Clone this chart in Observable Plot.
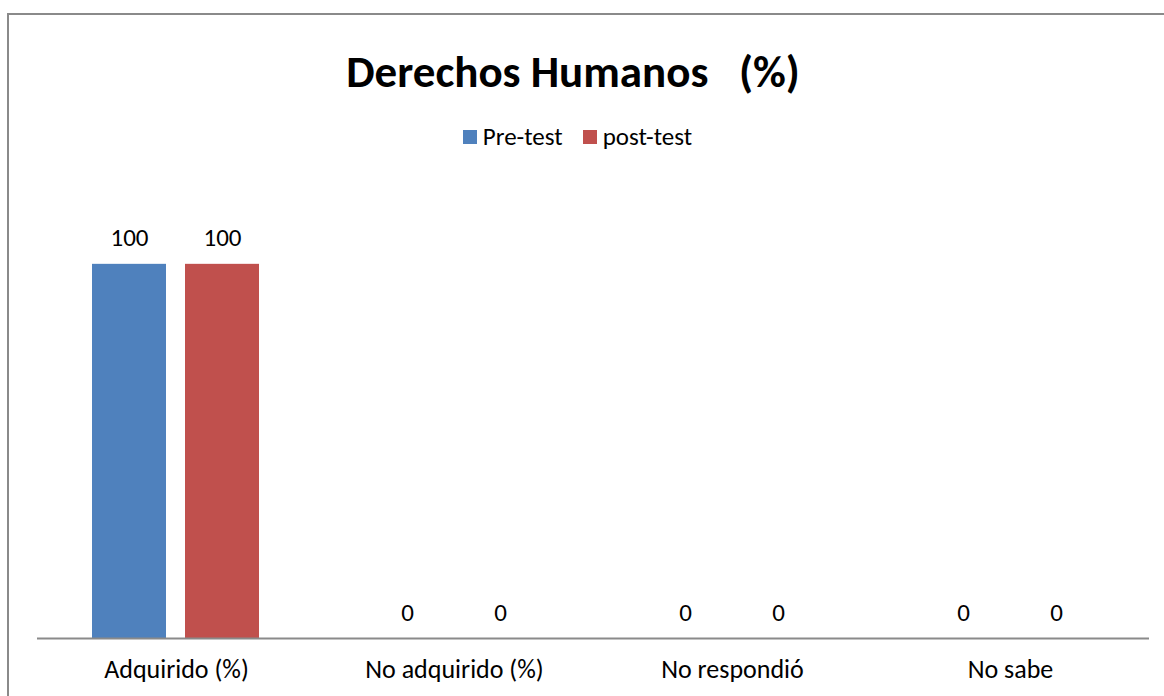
<!DOCTYPE html>
<html>
<head>
<meta charset="utf-8">
<script src="https://cdn.jsdelivr.net/npm/d3@7"></script>
<script src="https://cdn.jsdelivr.net/npm/@observablehq/plot@0.6"></script>
<style>
  html, body { margin: 0; padding: 0; background: #fff; overflow: hidden; }
  body { width: 1164px; height: 696px; position: relative; font-family: Carlito, Lato, "Noto Sans", sans-serif; color: #000; }
  #frame { position: absolute; left: 7px; top: 13px; width: 1200px; height: 800px; border: 2px solid #8a8a8a; box-sizing: border-box; }
  #title { position: absolute; left: 0; top: 41px; width: 1146px; text-align: center; font-weight: bold; font-size: 45px; line-height: 62px; }
  #legend { position: absolute; left: 0; top: 121px; width: 1155px; text-align: center; font-size: 25px; line-height: 30px; }
  #legend span.item { display: inline-flex; align-items: center; margin: 0 10px; }
  #legend span.sw { display: inline-block; width: 14px; height: 14px; margin-right: 6px; }
  #chart { position: absolute; left: 0; top: 160px; }
</style>
</head>
<body>
<div id="frame"></div>
<div id="title">Derechos Humanos&nbsp;&nbsp; (%)</div>
<div id="legend"></div>
<div id="chart"></div>
<script>
const categories = ["Adquirido (%)", "No adquirido (%)", "No respondió", "No sabe"];
const seriesNames = ["Pre-test", "post-test"];
const preTest = [100, 0, 0, 0];
const postTest = [100, 0, 0, 0];
const colors = ["#4F81BD", "#C0504D"];

const data = [];
categories.forEach((c, i) => {
  data.push({category: c, series: seriesNames[0], value: preTest[i]});
  data.push({category: c, series: seriesNames[1], value: postTest[i]});
});

const legend = document.getElementById("legend");
seriesNames.forEach((s, i) => {
  const item = document.createElement("span");
  item.className = "item";
  const sw = document.createElement("span");
  sw.className = "sw";
  sw.style.background = colors[i];
  item.appendChild(sw);
  item.appendChild(document.createTextNode(s));
  legend.appendChild(item);
});

const chart = Plot.plot({
  width: 1164,
  height: 536,
  marginTop: 29,
  marginBottom: 58,
  marginLeft: 37,
  marginRight: 15,
  style: {fontFamily: "Carlito, Lato, 'Noto Sans', sans-serif", fontSize: "26px", color: "#000", background: "transparent"},
  fx: {domain: categories, padding: 0, axis: "bottom", tickSize: 0, tickPadding: 21, label: null},
  x: {domain: seriesNames, paddingInner: 0.2, paddingOuter: 0.585, axis: null},
  y: {domain: [0, 120], axis: null},
  color: {domain: seriesNames, range: colors},
  marks: [
    Plot.barY(data, {fx: "category", x: "series", y: "value", fill: "series"}),
    Plot.ruleY([0], {stroke: "#8a8a8a", strokeWidth: 2}),
    Plot.text(data, {fx: "category", x: "series", y: "value", text: d => String(d.value), dy: -26, fontSize: 25, fill: "#000"})
  ]
});
document.getElementById("chart").appendChild(chart);
</script>
</body>
</html>
